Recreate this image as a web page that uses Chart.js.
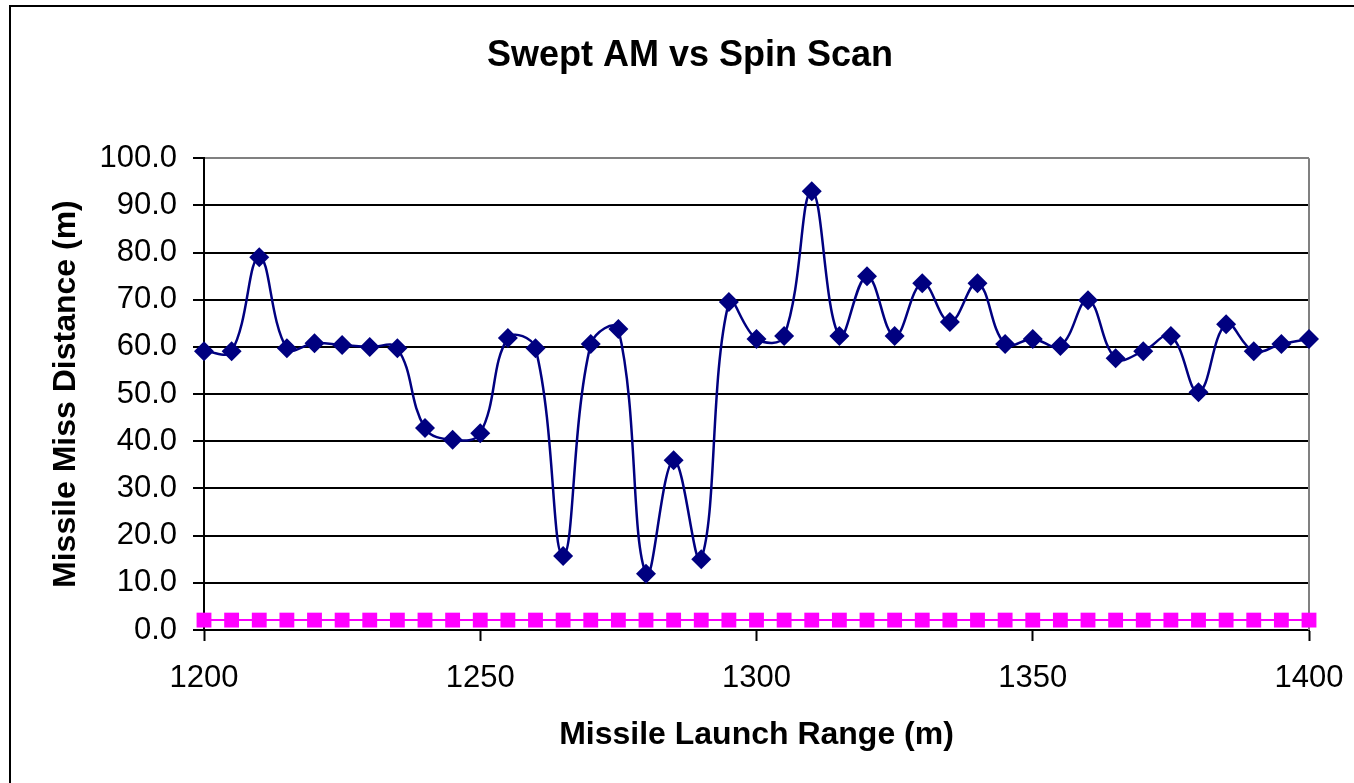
<!DOCTYPE html>
<html>
<head>
<meta charset="utf-8">
<script src="https://cdn.jsdelivr.net/npm/chart.js@4/dist/chart.umd.min.js"></script>
<style>
  html, body { margin: 0; padding: 0; background: #fff; overflow: hidden; }
  #frame { position: absolute; left: 9px; top: 5px; width: 1400px; height: 830px; border: 2px solid #000; }
  #wrap { position: absolute; left: 0; top: 0; width: 1354px; height: 783px; }
</style>
</head>
<body>
<div id="frame"></div>
<div id="wrap"><canvas id="chart"></canvas></div>
<script>
// --- Data ---
const launchRange = [1200, 1205, 1210, 1215, 1220, 1225, 1230, 1235, 1240, 1245,
                     1250, 1255, 1260, 1265, 1270, 1275, 1280, 1285, 1290, 1295,
                     1300, 1305, 1310, 1315, 1320, 1325, 1330, 1335, 1340, 1345,
                     1350, 1355, 1360, 1365, 1370, 1375, 1380, 1385, 1390, 1395, 1400];

const sweptAM = [59.1, 59.1, 79.0, 59.7, 60.8, 60.4, 60.0, 59.7, 42.8, 40.3,
                 41.7, 61.9, 59.7, 15.7, 60.6, 63.8, 11.9, 36.0, 15.0, 69.5,
                 61.7, 62.3, 93.0, 62.3, 75.0, 62.3, 73.5, 65.3, 73.5, 60.6,
                 61.7, 60.2, 69.9, 57.6, 59.1, 62.3, 50.4, 64.8, 59.1, 60.6, 61.7];

const spinScan = [2.1, 2.1, 2.1, 2.1, 2.1, 2.1, 2.1, 2.1, 2.1, 2.1,
                  2.1, 2.1, 2.1, 2.1, 2.1, 2.1, 2.1, 2.1, 2.1, 2.1,
                  2.1, 2.1, 2.1, 2.1, 2.1, 2.1, 2.1, 2.1, 2.1, 2.1,
                  2.1, 2.1, 2.1, 2.1, 2.1, 2.1, 2.1, 2.1, 2.1, 2.1, 2.1];

const xTicks = [1200, 1250, 1300, 1350, 1400];
const yTicks = [0, 10, 20, 30, 40, 50, 60, 70, 80, 90, 100];

const FONT = '"Liberation Sans", Arial, sans-serif';

// grey right edge of the plot area, like Excel's plot border
// (also shifts the title box so it is centred on the whole chart object)
const plotBorder = {
    id: 'plotBorder',
    afterLayout(chart) {
        if (chart.titleBlock) {
            chart.titleBlock.left = 0;
            chart.titleBlock.right = 1380;
        }
    },
    beforeDatasetsDraw(chart) {
        const { ctx, chartArea } = chart;
        ctx.save();
        ctx.strokeStyle = '#808080';
        ctx.lineWidth = 2;
        ctx.beginPath();
        ctx.moveTo(chartArea.right, chartArea.top);
        ctx.lineTo(chartArea.right, chartArea.bottom);
        ctx.stroke();
        ctx.restore();
    }
};

const toPoints = ys => ys.map((y, i) => ({ x: launchRange[i], y: y }));

new Chart(document.getElementById('chart').getContext('2d'), {
    type: 'line',
    data: {
        datasets: [{
            label: 'Swept AM',
            data: toPoints(sweptAM),
            borderColor: '#000080',
            backgroundColor: '#000080',
            borderWidth: 2.5,
            tension: 0.4,
            pointStyle: 'rectRot',
            pointRadius: 10,
            pointBorderWidth: 0,
            clip: false
        }, {
            label: 'Spin Scan',
            data: toPoints(spinScan),
            borderColor: '#FF00FF',
            backgroundColor: '#FF00FF',
            borderWidth: 2,
            tension: 0,
            pointStyle: 'rect',
            pointRadius: 10.5,
            pointBorderWidth: 0,
            clip: false
        }]
    },
    options: {
        responsive: true,
        maintainAspectRatio: false,
        animation: false,
        layout: { padding: { left: 0, right: 45, top: 0, bottom: 0 } },
        plugins: {
            legend: { display: false },
            tooltip: { enabled: false },
            title: {
                display: true,
                text: 'Swept AM vs Spin Scan',
                color: '#000',
                font: { family: FONT, size: 36, weight: 'bold' },
                padding: { top: 34, bottom: 81 }
            }
        },
        scales: {
            x: {
                type: 'linear',
                min: 1200,
                max: 1400,
                afterFit: s => { s.height = 153; s.paddingRight = 0; },
                afterBuildTicks: s => { s.ticks = xTicks.map(v => ({ value: v })); },
                ticks: {
                    color: '#000',
                    font: { family: FONT, size: 31 },
                    padding: 19,
                    maxRotation: 0,
                    callback: v => String(v)
                },
                grid: {
                    drawOnChartArea: false,
                    drawTicks: true,
                    tickLength: 11,
                    tickWidth: 2,
                    tickColor: '#000'
                },
                border: { color: '#000', width: 2 },
                title: {
                    display: true,
                    text: 'Missile Launch Range (m)',
                    color: '#000',
                    font: { family: FONT, size: 32, weight: 'bold' },
                    padding: { top: 0, bottom: 29 }
                }
            },
            y: {
                min: 0,
                max: 100,
                afterFit: s => { s.width = 204; },
                afterBuildTicks: s => { s.ticks = yTicks.map(v => ({ value: v })); },
                ticks: {
                    color: '#000',
                    font: { family: FONT, size: 31 },
                    padding: 16,
                    callback: v => Number(v).toFixed(1)
                },
                grid: {
                    color: ctx => ctx.tick && ctx.tick.value === 100 ? '#808080' : '#000',
                    lineWidth: 2,
                    tickLength: 11,
                    tickColor: '#000',
                    tickWidth: 2
                },
                border: { color: '#000', width: 2 },
                title: {
                    display: true,
                    text: 'Missile Miss Distance (m)',
                    color: '#000',
                    font: { family: FONT, size: 32, weight: 'bold' },
                    padding: { top: 47, bottom: 0 }
                }
            }
        }
    },
    plugins: [plotBorder]
});
</script>
</body>
</html>
